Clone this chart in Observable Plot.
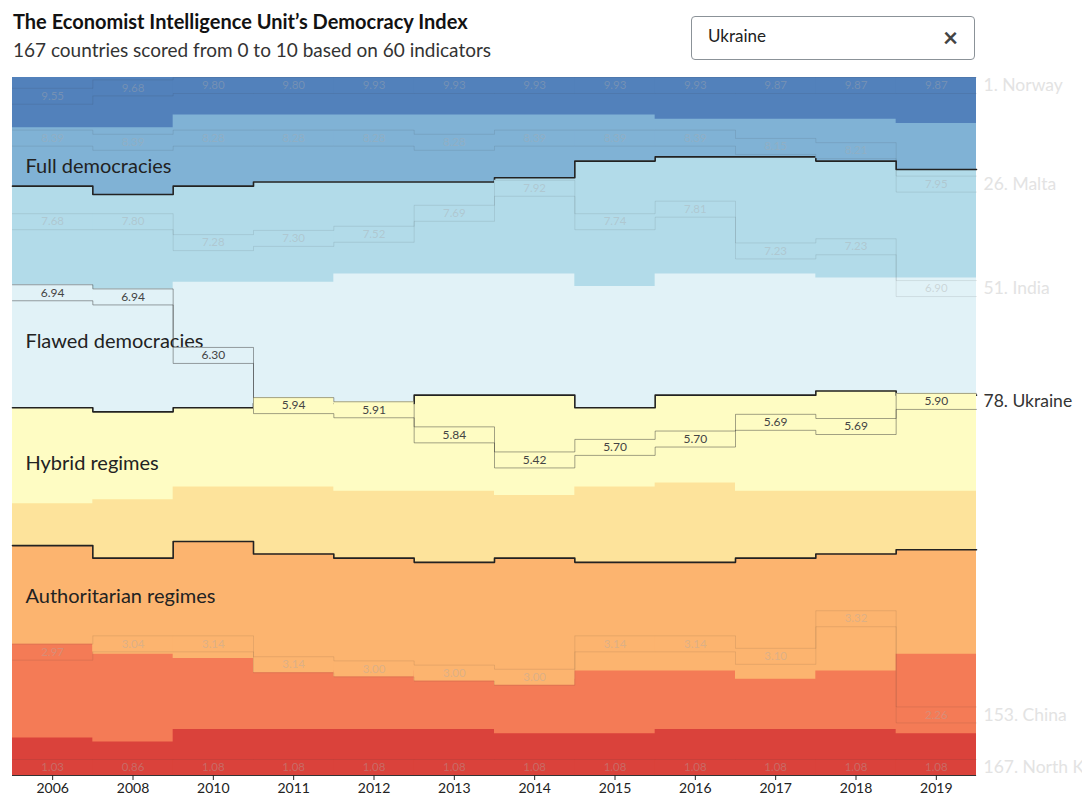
<!DOCTYPE html>
<html>
<head>
<meta charset="utf-8">
<script src="https://cdn.jsdelivr.net/npm/d3@7"></script>
<script src="https://cdn.jsdelivr.net/npm/@observablehq/plot@0.6"></script>
<style>
  html, body { margin: 0; padding: 0; background: #fff; overflow: hidden; }
  body { font-family: Lato, "Open Sans", sans-serif; width: 1082px; height: 796px; position: relative; }
  #header { position: relative; height: 67px; }
  #title { position: absolute; left: 13px; top: 9px; font-size: 20px; font-weight: 700; color: #121212; white-space: nowrap; }
  #subtitle { position: absolute; left: 13px; top: 38px; font-size: 19px; color: #333; white-space: nowrap; }
  #search { position: absolute; left: 691px; top: 16px; width: 282px; height: 42px; border: 1px solid #8b9298; border-radius: 4px; box-sizing: content-box; z-index: 2; }
  #search .q { position: absolute; left: 16px; top: 8px; font-size: 17px; color: #222; }
  #search .x { position: absolute; right: 16px; top: 4px; font-size: 26px; color: #444; font-weight: 700; }
  #chart svg { display: block; }
</style>
</head>
<body>
<div id="header">
  <div id="title">The Economist Intelligence Unit’s Democracy Index</div>
  <div id="subtitle">167 countries scored from 0 to 10 based on 60 indicators</div>
  <div id="search"><span class="q">Ukraine</span><span class="x">×</span></div>
</div>
<div id="chart"></div>
<script>
// ---- data ----
const years = ["2006","2008","2010","2011","2012","2013","2014","2015","2016","2017","2018","2019"];
const bins = ["9–10","8–9","7–8","6–7","5–6","4–5","3–4","2–3","0–2"];
const binThresholds = [9, 8, 7, 6, 5, 4, 3, 2];
// number of countries in each score bin, per year
const count9to10 = [12,12, 9, 9, 9, 9, 9, 9,10,10,10,11];
const count8to9  = [14,16,17,16,16,16,15,11, 9, 9,10,11];
const count7to8  = [24,23,23,24,22,22,23,30,28,28,28,26];
const count6to7  = [29,29,30,29,31,29,29,29,29,29,27,28];
const count5to6  = [23,21,19,20,21,23,24,19,21,23,24,23];
const count4to5  = [10,14,13,16,16,17,15,18,19,16,15,14];
const count3to4  = [24,23,28,28,27,27,29,26,26,29,28,25];
const count2to3  = [22,21,17,14,14,13,13,15,14,12,14,19];
const count0to2  = [ 9, 8,11,11,11,11,10,10,11,11,11,10];
const regimes = ["Full democracies", "Flawed democracies", "Hybrid regimes", "Authoritarian regimes"];

const countries = ["Norway", "Malta", "India", "Ukraine", "China", "North Korea"];
const scoresNorway  = [9.55,9.68,9.80,9.80,9.93,9.93,9.93,9.93,9.93,9.87,9.87,9.87];
const ranksNorway   = [5,3,1,1,1,1,1,1,1,1,1,1];
const scoresMalta   = [8.39,8.39,8.28,8.28,8.28,8.28,8.39,8.39,8.39,8.15,8.21,7.95];
const ranksMalta    = [15,16,15,15,15,16,15,15,15,17,18,26];
const scoresIndia   = [7.68,7.80,7.28,7.30,7.52,7.69,7.92,7.74,7.81,7.23,7.23,6.90];
const ranksIndia    = [35,35,40,39,38,33,27,35,32,42,41,51];
const scoresUkraine = [6.94,6.94,6.30,5.94,5.91,5.84,5.42,5.70,5.70,5.69,5.69,5.90];
const ranksUkraine  = [52,53,67,79,80,86,92,89,87,83,84,78];
const scoresChina   = [2.97,3.04,3.14,3.14,3.00,3.00,3.00,3.14,3.14,3.10,3.32,2.26];
const ranksChina    = [138,136,136,141,142,143,144,136,136,139,130,153];
const scoresNK      = [1.03,0.86,1.08,1.08,1.08,1.08,1.08,1.08,1.08,1.08,1.08,1.08];
const ranksNK       = [167,167,167,167,167,167,167,167,167,167,167,167];
const selected = "Ukraine";

// ---- derived ----
const N = 167;
const binCounts = [count9to10, count8to9, count7to8, count6to7, count5to6, count4to5, count3to4, count2to3, count0to2];
const binColors = ["#5281bb", "#80b2d5", "#b2dbe9", "#e1f2f7", "#fefcc3", "#fde39b", "#fcb46f", "#f47b56", "#da423b"];
const cum = binCounts.map((_, b) => years.map((_, i) => d3.sum(binCounts.slice(0, b), c => c[i])));

const W = 1082, H = 729, MT = 10, MB = 21, ML = 12, MR = 106;
const pxToRank = N / (H - MT - MB);
const half = 8 * pxToRank;

const stepIdx = d3.range(years.length + 1); // extra point closes the last step
const bandRows = [];
bins.forEach((bin, b) => stepIdx.forEach(j => {
  const i = Math.min(j, years.length - 1);
  bandRows.push({bin, x: j - 0.5, top: cum[b][i]});
}));
const regimeBoundary = [2, 4, 6]; // bins above these indices: >=8, >=6, >=4
const lineRows = [];
regimeBoundary.forEach(b => stepIdx.forEach(j => {
  const i = Math.min(j, years.length - 1);
  lineRows.push({b, x: j - 0.5, y: cum[b][i]});
}));

const countryScores = [scoresNorway, scoresMalta, scoresIndia, scoresUkraine, scoresChina, scoresNK];
const countryRanks = [ranksNorway, ranksMalta, ranksIndia, ranksUkraine, ranksChina, ranksNK];
const binOf = s => { const k = binThresholds.findIndex(t => s >= t); return bins[k === -1 ? bins.length - 1 : k]; };
const rows = [];
countries.forEach((country, c) => years.forEach((year, i) => {
  const rank = countryRanks[c][i], score = countryScores[c][i];
  const center = Math.max(half, Math.min(N - half, rank - 0.5));
  rows.push({country, i, rank, score, bin: binOf(score), center, sel: country === selected});
}));
const extRows = [];
countries.forEach(country => {
  const r = rows.filter(d => d.country === country);
  stepIdx.forEach(j => { const d = r[Math.min(j, years.length - 1)]; extRows.push({...d, x: j - 0.5}); });
});
const last = rows.filter(d => d.i === years.length - 1);
const regimeLabelRank = [21.2, 63.1, 92.3, 124.2];

const edge = (data, sign, opts) => Plot.line(data, {x: "x", y: d => d.center + sign * half, z: "country", curve: "step-after", ...opts});

const chart = Plot.plot({
  width: W, height: H,
  marginTop: MT, marginBottom: MB, marginLeft: ML, marginRight: MR,
  style: {fontFamily: "Lato, 'Open Sans', sans-serif", background: "transparent", overflow: "hidden"},
  x: {type: "linear", domain: [-0.5, years.length - 0.5], axis: null},
  y: {domain: [0, N], reverse: true, axis: null},
  color: {domain: bins, range: binColors},
  marks: [
    Plot.areaY(bandRows, {x: "x", y1: "top", y2: () => N, z: "bin", fill: "bin", curve: "step-after"}),
    Plot.line(lineRows, {x: "x", y: "y", z: "b", curve: "step-after", stroke: "#222", strokeWidth: 1.6}),
    Plot.text(regimes, {x: () => -0.5, y: (d, i) => regimeLabelRank[i], text: d => d, dx: 13, textAnchor: "start", fontSize: 20, fill: "#222"}),
    Plot.rect(rows, {x1: d => d.i - 0.5, x2: d => d.i + 0.5, y1: d => d.center - half, y2: d => d.center + half, fill: "bin"}),
    edge(extRows.filter(d => !d.sel), -1, {stroke: "#333", strokeOpacity: 0.1, strokeWidth: 1}),
    edge(extRows.filter(d => !d.sel), 1, {stroke: "#333", strokeOpacity: 0.1, strokeWidth: 1}),
    edge(extRows.filter(d => d.sel), -1, {stroke: "#333", strokeOpacity: 0.45, strokeWidth: 1}),
    edge(extRows.filter(d => d.sel), 1, {stroke: "#333", strokeOpacity: 0.45, strokeWidth: 1}),
    Plot.text(rows.filter(d => !d.sel), {x: "i", y: "center", text: d => d.score.toFixed(2), fontSize: 11.5, fill: "#aaa", fillOpacity: 0.4}),
    Plot.text(rows.filter(d => d.sel), {x: "i", y: "center", text: d => d.score.toFixed(2), fontSize: 12, fill: "#444"}),
    Plot.text(last, {x: () => years.length - 0.5, y: "center", dx: 7, textAnchor: "start", text: d => `${d.rank}. ${d.country}`, fontSize: 17.5, fill: d => d.sel ? "#333" : "#e3e3e3"}),
    Plot.ruleY([N], {stroke: "#333", strokeWidth: 1}),
    Plot.axisX(d3.range(years.length), {tickFormat: i => years[i], tickSize: 5, tickPadding: 3, fontSize: 14, color: "#222", label: null})
  ]
});
document.getElementById("chart").appendChild(chart);
</script>
</body>
</html>
